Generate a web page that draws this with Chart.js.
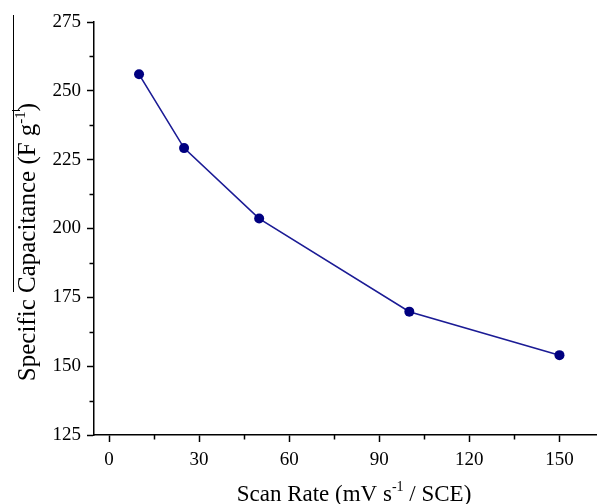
<!DOCTYPE html>
<html>
<head>
<meta charset="utf-8">
<script src="https://cdn.jsdelivr.net/npm/chart.js@4"></script>
<style>
  html, body { margin: 0; padding: 0; background: #fff; }
  #wrap { width: 597px; height: 504px; }
</style>
</head>
<body>
<div id="wrap"><canvas id="c" width="597" height="504"></canvas></div>
<script>
// Specific capacitance measured at each scan rate
const scanRates = [10, 25, 50, 100, 150];
const capacitance = [256, 229.2, 203.6, 169.8, 154];

// Axis tick values (major labelled, minor unlabelled)
const xTickValues = [0, 30, 60, 90, 120, 150];
const xMinorValues = [15, 45, 75, 105, 135];
const yTickValues = [125, 150, 175, 200, 225, 250, 275];
const yMinorValues = [137.5, 162.5, 187.5, 212.5, 237.5, 262.5];

// Axis titles, split so the exponent can be raised
const xTitleParts = [{ t: 'Scan Rate (mV s' }, { t: '-1', sup: true }, { t: ' / SCE)' }];
const yTitleParts = [{ t: 'Specific Capacitance (F g' }, { t: '-1', sup: true }, { t: ')' }];

const FONT = '"Liberation Serif", "Times New Roman", serif';
const INK = '#000';

function drawParts(ctx, parts, cx, baseY, size) {
  const supSize = Math.round(size * 0.6);
  const widths = parts.map(p => {
    ctx.font = (p.sup ? supSize : size) + 'px ' + FONT;
    return ctx.measureText(p.t).width;
  });
  const total = widths.reduce((a, b) => a + b, 0);
  let x = cx - total / 2;
  ctx.textAlign = 'left';
  ctx.textBaseline = 'alphabetic';
  parts.forEach((p, i) => {
    ctx.font = (p.sup ? supSize : size) + 'px ' + FONT;
    ctx.fillText(p.t, x, p.sup ? baseY - size * 0.42 : baseY);
    x += widths[i];
  });
}

const decorPlugin = {
  id: 'decor',
  afterDraw(chart) {
    const ctx = chart.ctx;
    const xs = chart.scales.x, ys = chart.scales.y;
    const area = chart.chartArea;
    ctx.save();
    ctx.strokeStyle = INK;
    ctx.lineWidth = 1.5;
    // minor ticks
    ctx.beginPath();
    xMinorValues.forEach(v => {
      const px = Math.round(xs.getPixelForValue(v)) + 0.5;
      ctx.moveTo(px, area.bottom);
      ctx.lineTo(px, area.bottom + 4.5);
    });
    yMinorValues.forEach(v => {
      const py = Math.round(ys.getPixelForValue(v)) + 0.5;
      ctx.moveTo(area.left, py);
      ctx.lineTo(area.left - 4.5, py);
    });
    ctx.stroke();

    // axis titles
    ctx.fillStyle = INK;
    drawParts(ctx, xTitleParts, 354, 501, 23);
    ctx.save();
    ctx.translate(35, 242);
    ctx.rotate(-Math.PI / 2);
    drawParts(ctx, yTitleParts, 0, 0, 25);
    ctx.restore();

    // rule beside the y title
    ctx.lineWidth = 1;
    ctx.beginPath();
    ctx.moveTo(13.5, 15);
    ctx.lineTo(13.5, 292);
    ctx.moveTo(12, 110.5);
    ctx.lineTo(20, 110.5);
    ctx.stroke();
    ctx.restore();
  }
};

const tickFont = { family: FONT, size: 19 };

new Chart(document.getElementById('c'), {
  type: 'scatter',
  data: {
    datasets: [{
      data: scanRates.map((x, i) => ({ x, y: capacitance[i] })),
      showLine: true,
      borderColor: '#1b1b95',
      borderWidth: 1.6,
      pointRadius: 5,
      pointHoverRadius: 5,
      pointBackgroundColor: '#000080',
      pointBorderColor: '#000080',
      pointBorderWidth: 0
    }]
  },
  options: {
    responsive: false,
    devicePixelRatio: 1,
    animation: false,
    events: [],
    layout: { autoPadding: false, padding: { top: 22, right: 0, bottom: 0, left: 0 } },
    plugins: { legend: { display: false }, tooltip: { enabled: false } },
    scales: {
      x: {
        type: 'linear',
        min: -5,
        max: 162.5,
        afterBuildTicks: s => { s.ticks = xTickValues.map(v => ({ value: v })); },
        afterFit: s => { s.height = 69; },
        ticks: { font: tickFont, color: INK, padding: 7, maxRotation: 0 },
        grid: { drawOnChartArea: false, drawTicks: true, tickLength: 7, tickColor: INK, tickWidth: 1.5 },
        border: { display: true, color: INK, width: 1.5 }
      },
      y: {
        type: 'linear',
        min: 125,
        max: 275,
        afterBuildTicks: s => { s.ticks = yTickValues.map(v => ({ value: v })); },
        afterFit: s => { s.width = 94; },
        ticks: { font: tickFont, color: INK, padding: 6 },
        grid: { drawOnChartArea: false, drawTicks: true, tickLength: 7, tickColor: INK, tickWidth: 1.5 },
        border: { display: true, color: INK, width: 1.5 }
      }
    }
  },
  plugins: [decorPlugin]
});
</script>
</body>
</html>
